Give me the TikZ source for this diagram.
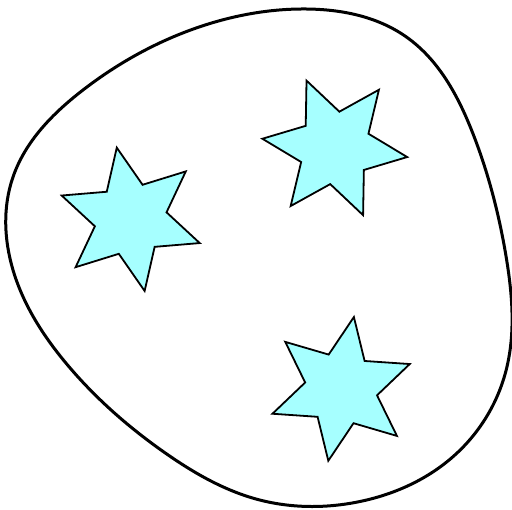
\documentclass[tikz,border=0pt]{standalone}
\usepackage{tikz}
\usetikzlibrary{hobby}
\definecolor{starcyan}{RGB}{166,255,255}

\begin{document}
\begin{tikzpicture}[
    x=1pt, y=-1pt,
    blob/.style={draw=black, line width=3pt, line join=round},
    starbox/.style={draw=black, line width=1.8pt, line join=miter, fill=starcyan},
    sixstar/.pic={
        \draw[starbox] (#1:73) \foreach \k in {0,...,5} { -- (#1+60*\k+30:36.5) -- (#1+60*\k+60:73) } -- cycle;
    }
]
    \useasboundingbox (0,0) rectangle (512,510);

    % Outline
    \draw[blob, use Hobby shortcut, closed=true]
        (306,9) .. (406,36.7) .. (472.7,133) .. (506,256) .. (506,370.7)
        .. (456,454) .. (356,502.3) .. (256,499) .. (166.7,454) .. (66.7,364)
        .. (13,270) .. (13,177) .. (83,90) .. (200,26.7);

    % Stars
    \coordinate (starleft) at (130.7,219.3);
    \coordinate (starright) at (334.8,147.9);
    \coordinate (starbottom) at (341.1,388.9);
    \pic at (starleft) {sixstar=-101};
    \pic at (starright) {sixstar=-112.8};
    \pic at (starbottom) {sixstar=-79.9};
\end{tikzpicture}
\end{document}
